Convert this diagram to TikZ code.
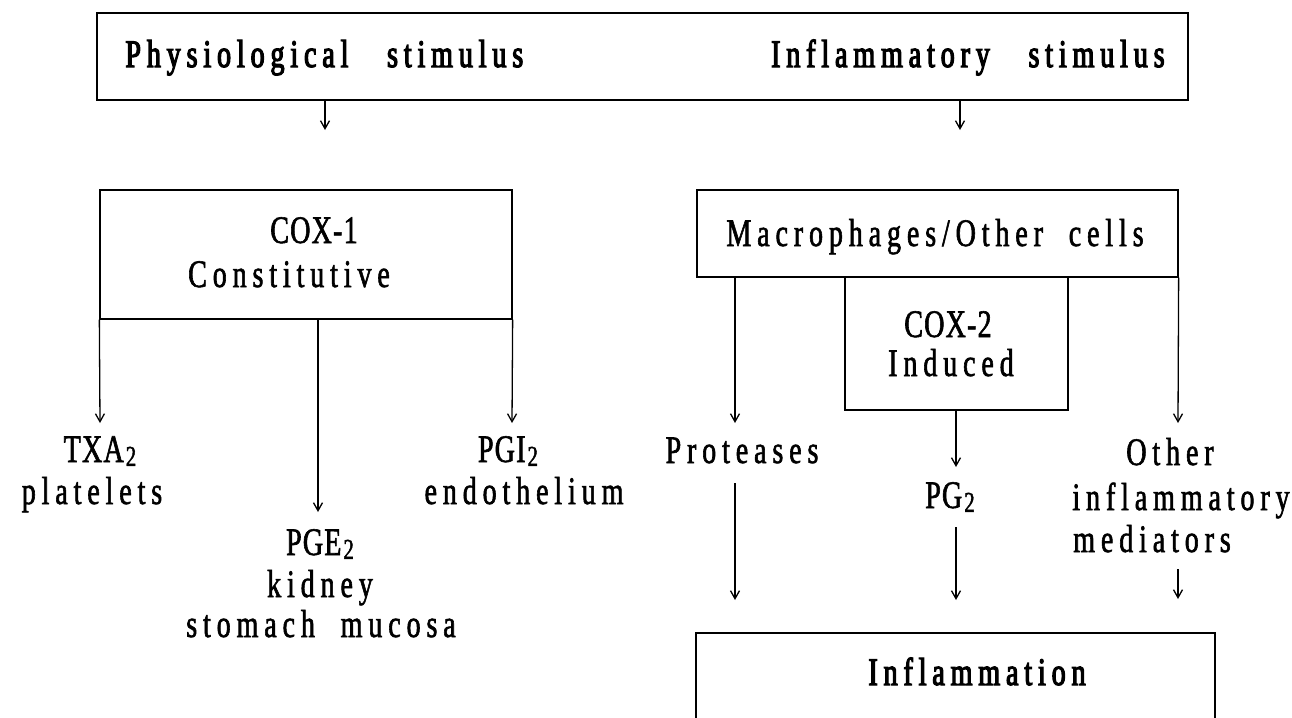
\documentclass[tikz,border=0pt]{standalone}
\usepackage{fontspec}
% condensed, widely tracked serif faces
\newfontfamily\txtfont{Liberation Serif}[FakeStretch=0.72,LetterSpace=15,WordSpace=2,FakeBold=1.5]
\newfontfamily\capfont{Liberation Serif}[FakeStretch=0.72,LetterSpace=3,WordSpace=2,FakeBold=1.5]
\newfontfamily\headfont{Liberation Serif}[FakeStretch=0.72,LetterSpace=15,WordSpace=3,FakeBold=3]
\newcommand\subtwo{\raisebox{-0.22ex}{\fontsize{14.5}{14.5}\selectfont\kern1pt 2}}
\usetikzlibrary{arrows.meta}
\begin{document}
\begin{tikzpicture}[x=0.5pt,y=-0.5pt,
  box/.style={draw,line width=0.65pt,inner sep=0pt},
  txt/.style={font=\fontsize{19.5}{22}\txtfont,anchor=base,inner sep=0pt},
  captxt/.style={font=\fontsize{19.5}{22}\capfont,anchor=base,inner sep=0pt},
  headtxt/.style={font=\fontsize{19.5}{22}\headfont,anchor=base,inner sep=0pt},
  flow/.style={line width=0.65pt,-{Straight Barb[length=4pt,width=4.5pt]}},
]
\useasboundingbox (0,0) rectangle (1292,718);

% stimulus bar
\node[box,minimum width=545.5pt,minimum height=43.5pt] (top) at (642.5,56.5) {};
\node[headtxt,anchor=base west] (phys) at (125,67) {Physiological stimulus};
\node[headtxt,anchor=base east] (infl) at (1165,67) {Inflammatory stimulus};
\coordinate (pend) at (325,130);
\coordinate (iend) at (960,130);
\draw[flow] (top.south -| pend) -- (pend);
\draw[flow] (top.south -| iend) -- (iend);

% constitutive branch
\node[box,minimum width=206pt,minimum height=64.5pt] (cox1) at (306,254.5) {};
\node[captxt] (cox1a) at (314,243) {COX-1};
\node[txt] (cox1b) at (289,287) {Constitutive};
\coordinate (txaend) at (100,423);
\coordinate (pgiend) at (512,423);
\coordinate (pgeend) at (318,512);
\draw[flow] (cox1.south west) -- (txaend);
\draw[flow] (cox1.south east) -- (pgiend);
\draw[flow] (cox1.south -| pgeend) -- (pgeend);
\node[captxt] (txa) at (100,462) {TXA\subtwo};
\node[txt] (txab) at (92,504) {platelets};
\node[captxt] (pgi) at (508,462) {PGI\subtwo};
\node[txt] (pgib) at (524,504) {endothelium};
\node[captxt] (pge) at (320,555) {PGE\subtwo};
\node[txt] (pgeb) at (320,597) {kidney};
\node[txt] (pgec) at (321,637) {stomach mucosa};

% inducible branch
\node[box,minimum width=240.5pt,minimum height=43.5pt] (macro) at (937.5,233.5) {};
\node[txt] (macrot) at (935,246) {Macrophages/Other cells};
\node[box,minimum width=111.5pt,minimum height=66.5pt] (cox2) at (956.5,343.5) {};
\node[captxt] (cox2a) at (948,337) {COX-2};
\node[txt] (cox2b) at (951,376) {Induced};
\coordinate (protend) at (735,423);
\coordinate (othend) at (1178,423);
\coordinate (pgend) at (956,467);
\draw[flow] (macro.south west -| protend) -- (protend);
\draw[flow] (macro.south east) -- (othend);
\draw[flow] (cox2.south -| pgend) -- (pgend);
\node[txt] (prot) at (742,463) {Proteases};
\node[captxt] (pg) at (950,508) {PG\subtwo};
\node[txt] (oth) at (1170,465) {Other};
\node[txt] (othb) at (1181,510) {inflammatory};
\node[txt] (othc) at (1152,552) {mediators};

% common outcome
\node[box,minimum width=259.5pt,minimum height=100pt] (inflam) at (955.5,733) {};
\node[headtxt] (inflamt) at (977,685) {Inflammation};
\coordinate (s1) at (735,483);
\coordinate (s2) at (956,527);
\coordinate (s3) at (1178,569);
\coordinate (e1) at (735,600);
\coordinate (e2) at (956,600);
\coordinate (e3) at (1178,599);
\draw[flow] (s1) -- (e1);
\draw[flow] (s2) -- (e2);
\draw[flow] (s3) -- (e3);
\end{tikzpicture}
\end{document}
